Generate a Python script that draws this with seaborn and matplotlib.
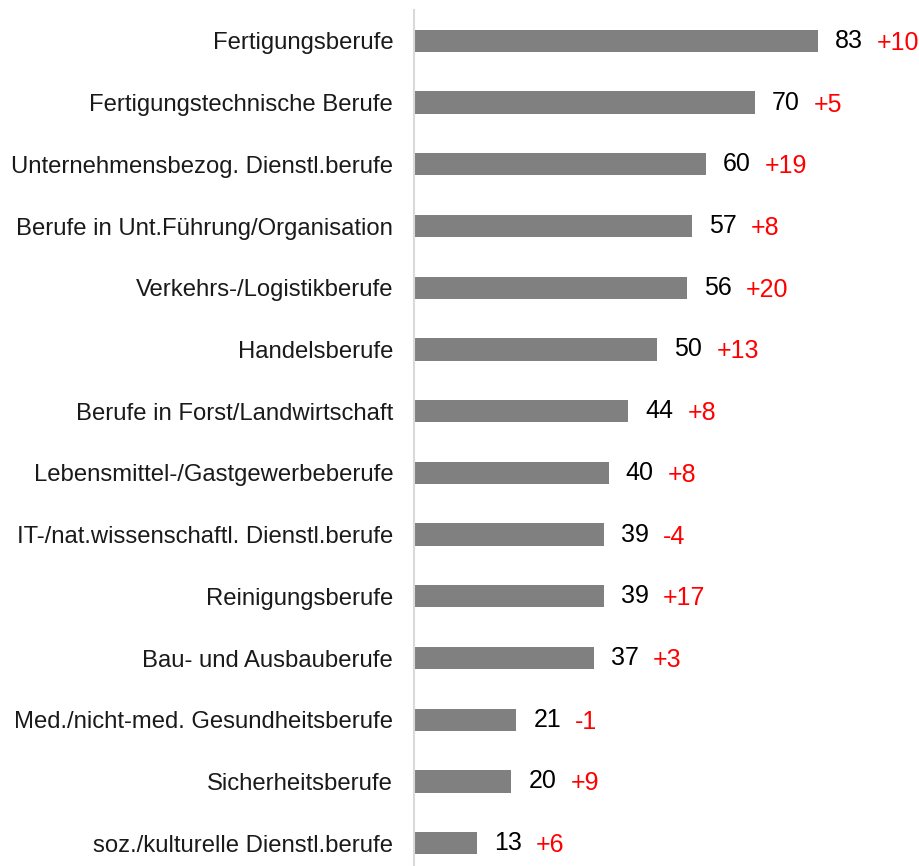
import matplotlib
matplotlib.use("Agg")
import matplotlib.pyplot as plt
import seaborn as sns
import pandas as pd

categories = [
    "Fertigungsberufe",
    "Fertigungstechnische Berufe",
    "Unternehmensbezog. Dienstl.berufe",
    "Berufe in Unt.Führung/Organisation",
    "Verkehrs-/Logistikberufe",
    "Handelsberufe",
    "Berufe in Forst/Landwirtschaft",
    "Lebensmittel-/Gastgewerbeberufe",
    "IT-/nat.wissenschaftl. Dienstl.berufe",
    "Reinigungsberufe",
    "Bau- und Ausbauberufe",
    "Med./nicht-med. Gesundheitsberufe",
    "Sicherheitsberufe",
    "soz./kulturelle Dienstl.berufe",
]
values = [83, 70, 60, 57, 56, 50, 44, 40, 39, 39, 37, 21, 20, 13]
changes = ["+10", "+5", "+19", "+8", "+20", "+13", "+8", "+8", "-4", "+17", "+3", "-1", "+9", "+6"]

df = pd.DataFrame({"Beruf": categories, "Wert": values})

sns.set_style("white")
plt.rcParams["font.family"] = ["Liberation Sans", "DejaVu Sans"]

W, H = 920, 866
fig = plt.figure(figsize=(W / 100, H / 100), dpi=100)
ax = fig.add_axes([414 / W, 0, (W - 414) / W, (H - 10) / H])

sns.barplot(data=df, x="Wert", y="Beruf", orient="h", color="#808080",
            saturation=1, width=0.36, ax=ax, edgecolor="none")

ax.set_xlim(0, (W - 414) / 4.87)
ax.set_ylim(13.37, -0.5)
ax.set_xlabel("")
ax.set_ylabel("")
ax.set_xticks([])
for s in ["top", "right", "bottom"]:
    ax.spines[s].set_visible(False)
ax.spines["left"].set_color("#d9d9d9")
ax.spines["left"].set_linewidth(1.5)
ax.tick_params(axis="y", length=0, pad=15, labelsize=17.2, labelcolor="#1a1a1a")

fig.canvas.draw()
for i, (v, c) in enumerate(zip(values, changes)):
    t = ax.annotate(str(v), xy=(v, i), xytext=(17, 0), textcoords="offset pixels",
                    va="center", ha="left", fontsize=18, color="black")
    ax.annotate(c, xy=(1, 0.5), xycoords=t, xytext=(14, -2), textcoords="offset pixels",
                va="center", ha="left", fontsize=18, color="#ff0000")

fig.savefig("out.png", dpi=100)
